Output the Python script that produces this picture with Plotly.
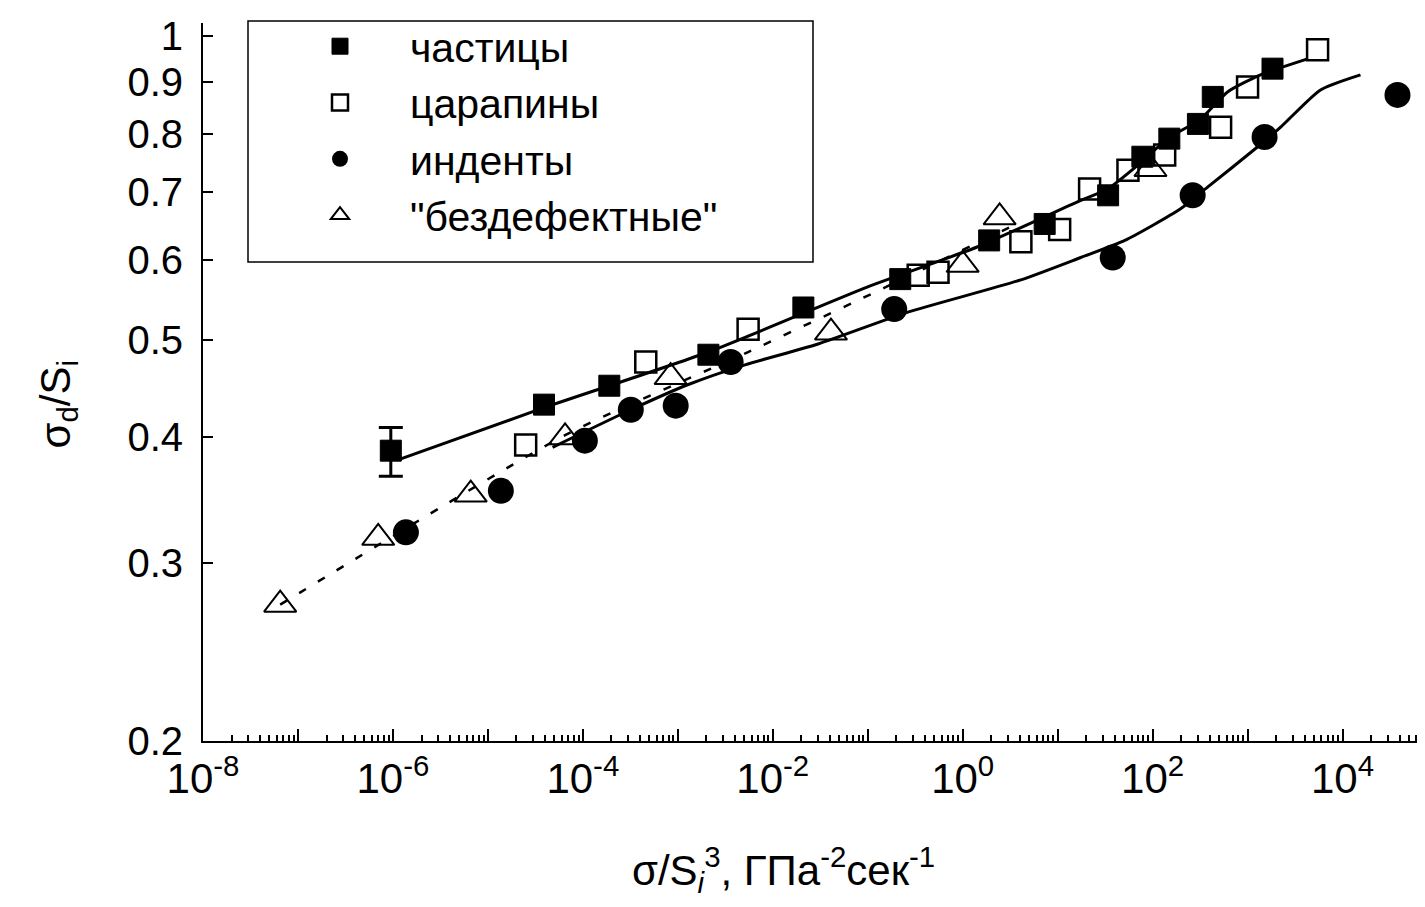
import plotly.graph_objects as go

# ---- data ----
# частицы (filled squares)
x_part = [9.5e-7, 3.9e-5, 1.9e-4, 2.1e-3, 2.1e-2, 0.22, 1.9, 7.3, 34, 78, 150, 300, 430, 1830]
y_part = [0.388, 0.431, 0.450, 0.483, 0.538, 0.574, 0.627, 0.651, 0.695, 0.759, 0.791, 0.818, 0.870, 0.928]
err_plus = [0.021]
err_minus = [0.022]

# царапины (open squares)
x_scr = [2.5e-5, 4.6e-4, 5.5e-3, 0.34, 0.55, 4.1, 10.5, 21.7, 55, 134, 520, 1000, 5460]
y_scr = [0.393, 0.475, 0.512, 0.579, 0.583, 0.625, 0.643, 0.705, 0.736, 0.762, 0.812, 0.890, 0.969]

# инденты (filled circles)
x_ind = [1.37e-6, 1.37e-5, 1.05e-4, 3.2e-4, 9.5e-4, 3.6e-3, 0.19, 38, 264, 1510, 37900]
y_ind = [0.322, 0.354, 0.397, 0.426, 0.430, 0.475, 0.536, 0.603, 0.695, 0.794, 0.874]

# "бездефектные" (open triangles)
x_free = [6.5e-8, 7.0e-7, 6.6e-6, 6.5e-5, 8.4e-4, 0.041, 1.0, 2.45, 95]
y_free = [0.273, 0.318, 0.351, 0.400, 0.459, 0.508, 0.593, 0.661, 0.738]

# fitted curves
fit_a_x = [1.13e-6, 3.9e-5, 2.1e-3, 0.1, 1.44, 17.5, 33.6, 73, 144, 320, 615, 1370, 4290]
fit_a_y = [0.380, 0.428, 0.486, 0.564, 0.618, 0.687, 0.705, 0.747, 0.791, 0.827, 0.880, 0.915, 0.949]
fit_b_x = [4.8e-5, 3.2e-4, 1.27e-3, 5.1e-3, 0.030, 0.26, 4.1, 17.5, 51, 197, 379, 1270, 2230, 5860, 15450]
fit_b_y = [0.391, 0.426, 0.451, 0.472, 0.495, 0.532, 0.573, 0.603, 0.627, 0.674, 0.708, 0.776, 0.812, 0.884, 0.915]
fit_c_x = [6.5e-8, 6.5e-5, 5.5e-3, 0.119, 4.1]
fit_c_y = [0.273, 0.402, 0.486, 0.557, 0.654]

x_decades = list(range(-8, 5))
y_ticks = [0.2, 0.3, 0.4, 0.5, 0.6, 0.7, 0.8, 0.9, 1.0]
y_ticklabels = ["0.2", "0.3", "0.4", "0.5", "0.6", "0.7", "0.8", "0.9", "1"]

names = ["частицы", "царапины", "инденты", "\"бездефектные\""]

FONT = "Liberation Sans, Arial, sans-serif"

fig = go.Figure()

# lines
fig.add_trace(go.Scatter(x=fit_a_x, y=fit_a_y, mode="lines", showlegend=False,
                         line=dict(color="black", width=3, shape="spline", smoothing=0.6)))
fig.add_trace(go.Scatter(x=fit_b_x, y=fit_b_y, mode="lines", showlegend=False,
                         line=dict(color="black", width=3, shape="spline", smoothing=0.6)))
fig.add_trace(go.Scatter(x=fit_c_x, y=fit_c_y, mode="lines", showlegend=False,
                         line=dict(color="black", width=2.5, dash="8px,14px", shape="spline", smoothing=0.6)))

# error bar on first point
fig.add_trace(go.Scatter(x=x_part[:1], y=y_part[:1], mode="markers", showlegend=False,
                         marker=dict(symbol="square", size=20, color="black"),
                         error_y=dict(type="data", symmetric=False, array=err_plus, arrayminus=err_minus,
                                      color="black", thickness=3, width=12)))

fig.add_trace(go.Scatter(x=x_part, y=y_part, mode="markers", name=names[0],
                         marker=dict(symbol="square", size=21, color="black",
                                     line=dict(color="black", width=1))))
fig.add_trace(go.Scatter(x=x_scr, y=y_scr, mode="markers", name=names[1],
                         marker=dict(symbol="square-open", size=21, color="black",
                                     line=dict(color="black", width=2.5))))
fig.add_trace(go.Scatter(x=x_ind, y=y_ind, mode="markers", name=names[2],
                         marker=dict(symbol="circle", size=26, color="black")))
fig.add_trace(go.Scatter(x=x_free, y=y_free, mode="markers", name=names[3],
                         marker=dict(symbol="triangle-up-open", size=28, color="black",
                                     line=dict(color="black", width=2))))

tickvals_x = [10.0 ** d for d in x_decades]
ticktext_x = [("10<sup>%d</sup>" % d) if d % 2 == 0 else "" for d in x_decades]
minor_x = [m * 10.0 ** d for d in x_decades for m in range(2, 10)]

fig.update_xaxes(type="log", range=[-8, 4.9], showgrid=False, zeroline=False,
                 showline=True, linecolor="black", linewidth=2,
                 ticks="inside", ticklen=12, tickwidth=2, tickcolor="black",
                 tickmode="array", tickvals=tickvals_x, ticktext=ticktext_x,
                 tickfont=dict(family=FONT, size=42, color="black"),
                 minor=dict(tickmode="array", tickvals=minor_x, ticks="inside",
                            ticklen=6, tickwidth=1.5, tickcolor="black"))
fig.update_yaxes(type="log", range=[-0.69897, 0.0128], showgrid=False, zeroline=False,
                 showline=True, linecolor="black", linewidth=2,
                 ticks="inside", ticklen=10, tickwidth=2, tickcolor="black",
                 tickmode="array", tickvals=y_ticks, ticktext=y_ticklabels,
                 ticklabelstandoff=10,
                 tickfont=dict(family=FONT, size=40, color="black"))

# legend frame
fig.add_shape(type="rect", xref="paper", yref="paper",
              x0=(240 - 195) / 1225, x1=(805 - 195) / 1225,
              y0=(733 - 252) / 721, y1=(733 - 10) / 721,
              line=dict(color="black", width=1.5), fillcolor="rgba(0,0,0,0)")

fig.update_layout(
    width=1425, height=907,
    margin=dict(l=195, r=5, t=12, b=174),
    paper_bgcolor="white", plot_bgcolor="white",
    font=dict(family=FONT, color="black"),
    legend=dict(x=(262 - 195) / 1225, y=(733 - 2) / 721, xanchor="left", yanchor="top",
                bgcolor="rgba(0,0,0,0)", borderwidth=0,
                font=dict(family=FONT, size=41, color="black"),
                itemwidth=130, tracegroupgap=0),
    annotations=[
        dict(text="σ/S<sub><i>i</i></sub><sup>3</sup>, ГПа<sup>-2</sup>сек<sup>-1</sup>",
             xref="paper", yref="paper", x=(775 - 195) / 1225, y=(733 - 862) / 721,
             xanchor="center", yanchor="middle", showarrow=False,
             font=dict(family=FONT, size=42, color="black")),
        dict(text="σ<sub>d</sub>/S<sub>i</sub>", textangle=-90,
             xref="paper", yref="paper", x=(50 - 195) / 1225, y=(733 - 395) / 721,
             xanchor="center", yanchor="middle", showarrow=False,
             font=dict(family=FONT, size=42, color="black")),
    ],
)

fig.write_html("out.html")
